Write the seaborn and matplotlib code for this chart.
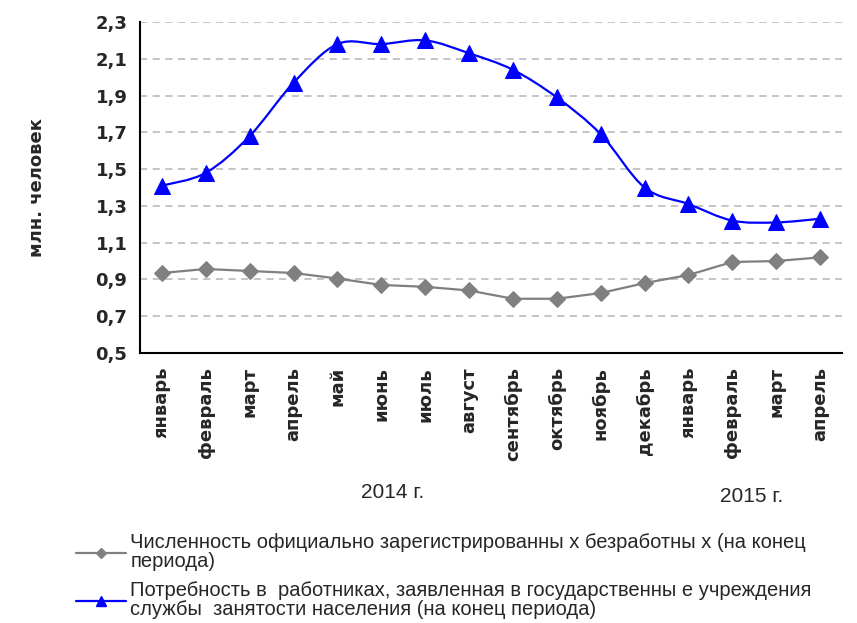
import matplotlib
matplotlib.use('Agg')
import matplotlib.pyplot as plt
import numpy as np
import pandas as pd
import seaborn as sns
from matplotlib.lines import Line2D
from matplotlib.path import Path
from matplotlib.patches import PathPatch

months = ['январь', 'февраль', 'март', 'апрель', 'май', 'июнь', 'июль', 'август',
          'сентябрь', 'октябрь', 'ноябрь', 'декабрь', 'январь', 'февраль', 'март', 'апрель']
unemployed = [0.935, 0.957, 0.946, 0.935, 0.905, 0.870, 0.860, 0.840,
              0.795, 0.795, 0.826, 0.880, 0.924, 0.995, 1.000, 1.020]
demand = [1.41, 1.48, 1.68, 1.97, 2.18, 2.18, 2.20, 2.13,
          2.04, 1.89, 1.69, 1.40, 1.31, 1.22, 1.21, 1.23]
yticks = [0.5, 0.7, 0.9, 1.1, 1.3, 1.5, 1.7, 1.9, 2.1, 2.3]
label_unemp = 'Численность официально зарегистрированны х безработны х (на конец\nпериода)'
label_demand = 'Потребность в  работниках, заявленная в государственны е учреждения\nслужбы  занятости населения (на конец периода)'

GRAY = '#808080'
BLUE = '#0000FF'

sns.set_style('white')
plt.rcParams['font.family'] = ['Liberation Sans', 'DejaVu Sans']
wide = ['DejaVu Sans']

fig = plt.figure(figsize=(8.57, 6.23), dpi=100)
ax = fig.add_axes([140 / 857, 1 - 353 / 623, 702 / 857, 331 / 623])

df = pd.DataFrame({'x': np.arange(len(months)), 'unemp': unemployed, 'demand': demand})

sns.lineplot(data=df, x='x', y='unemp', ax=ax, color=GRAY, lw=1.6, marker='D',
             markersize=8, markeredgecolor=GRAY, zorder=3)


# excel-style smoothed line for the demand series
def smooth_path(xs, ys):
    pts = np.column_stack([xs, ys])
    verts = [pts[0]]
    codes = [Path.MOVETO]
    n = len(pts)
    for i in range(n - 1):
        p0 = pts[max(i - 1, 0)]
        p1 = pts[i]
        p2 = pts[i + 1]
        p3 = pts[min(i + 2, n - 1)]
        c1 = p1 + (p2 - p0) / 6
        c2 = p2 - (p3 - p1) / 6
        verts += [c1, c2, p2]
        codes += [Path.CURVE4] * 3
    return Path(verts, codes)


ax.add_patch(PathPatch(smooth_path(df['x'], df['demand']), facecolor='none',
                       edgecolor=BLUE, lw=1.6, zorder=3))
sns.lineplot(data=df, x='x', y='demand', ax=ax, color=BLUE, lw=0, marker='^',
             markersize=12, markeredgecolor=BLUE, zorder=4)

ax.set_xlim(-0.5, len(months) - 0.5)
ax.set_ylim(0.5, 2.3)
ax.set_yticks(yticks)
ax.set_yticklabels([f'{v:.1f}'.replace('.', ',') for v in yticks], fontsize=13,
                   fontweight='bold', family=wide)
ax.set_xticks(np.arange(len(months) + 1) - 0.5)
ax.set_xticklabels([])
ax.set_xticks(np.arange(len(months)), minor=True)
ax.set_xticklabels(months, minor=True, rotation=90, fontsize=13, fontweight='bold',
                   va='top', family=wide)
ax.tick_params(axis='x', which='minor', length=0, pad=10)
ax.tick_params(axis='x', which='major', length=6, width=1.2, direction='out', color='black')
ax.tick_params(axis='y', length=6, width=1.2, direction='out', color='black', pad=3)
ax.set_xlabel('')
ax.set_ylabel('млн. человек', fontsize=13, fontweight='bold', family=wide, labelpad=36)

for v in yticks[1:]:
    ax.axhline(v, color='#C0C0C0', lw=1.3, ls=(0, (4, 3)), zorder=1)

for side in ['top', 'right']:
    ax.spines[side].set_visible(False)
for side in ['left', 'bottom']:
    ax.spines[side].set_color('black')
    ax.spines[side].set_linewidth(1.5)

fig.text(393 / 857, 1 - 493 / 623, '2014 г.', ha='center', va='center', fontsize=15)
fig.text(752 / 857, 1 - 497 / 623, '2015 г.', ha='center', va='center', fontsize=15)

handles = [Line2D([], [], color=GRAY, lw=1.6, marker='D', markersize=5),
           Line2D([], [], color=BLUE, lw=1.6, marker='^', markersize=7)]
leg = fig.legend(handles, [label_unemp, label_demand], loc='upper left',
                 bbox_to_anchor=(68 / 857, 1 - 525 / 623), frameon=False,
                 prop={'size': 14.5}, handlelength=2.5, handletextpad=0.2,
                 labelspacing=0.5, borderaxespad=0)
for t in leg.get_texts():
    t.set_linespacing(1.0)

fig.savefig('out.png', dpi=100)
